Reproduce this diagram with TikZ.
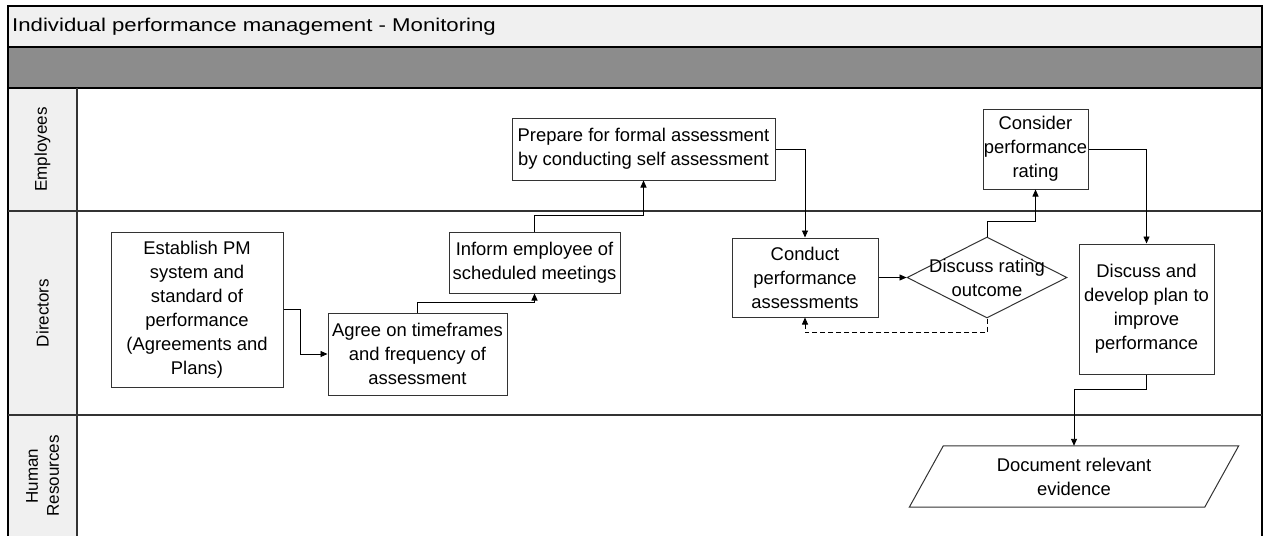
\documentclass[tikz,border=0pt]{standalone}
\usepackage{fontspec}
\usepackage{graphicx}
\setmainfont{Liberation Sans}
\usetikzlibrary{arrows.meta,shapes.geometric}

\definecolor{headfill}{HTML}{F0F0F0}
\definecolor{bandgray}{HTML}{8C8C8C}
\definecolor{laneline}{HTML}{333333}
\definecolor{boxline}{HTML}{333333}

\newcommand\boxfont{\fontsize{18.4}{24}\selectfont}
\newcommand\lanefont{\fontsize{17}{21}\selectfont}
\newcommand\headfont{\fontsize{18.5}{22}\selectfont}

\tikzset{
  stepbox/.style={draw=boxline, fill=white, line width=1pt, inner sep=0pt,
    align=center, font=\boxfont},
  decision/.style={diamond, draw=boxline, fill=white, line width=1pt, inner sep=0pt},
  flow/.style={draw=black, line width=0.9pt, -{Triangle[length=7pt,width=6pt]}},
  backflow/.style={flow, dash pattern=on 5pt off 3pt},
  frameline/.style={draw=black, line width=1.4pt},
  laneline/.style={draw=laneline, line width=1.4pt},
  lanelabel/.style={rotate=90, font=\lanefont, align=center},
}

\begin{document}
\begin{tikzpicture}[x=1pt, y=-1pt]
  \useasboundingbox (0,0) rectangle (1265,535);
  \fill[white] (0,0) rectangle (1265,535);

  % pool header, band and lane label column
  \fill[headfill] (8,6) rectangle (1262,47);
  \fill[bandgray] (8,47) rectangle (1262,88);
  \fill[headfill] (8,88) rectangle (77,540);

  \draw[frameline] (8,540) -- (8,6) -- (1262,6) -- (1262,540);
  \draw[frameline] (8,47) -- (1262,47);
  \draw[frameline] (8,88) -- (1262,88);
  \draw[laneline] (77,88) -- (77,540);
  \draw[laneline] (8,211) -- (1262,211);
  \draw[laneline] (8,415) -- (1262,415);

  \node[anchor=base west, font=\headfont, inner sep=0pt] (title) at (12,31.7)
    {\scalebox{1.2}[1]{Individual performance management - Monitoring}};

  % lane labels
  \node[lanelabel] (lemp) at (42.5,149.5) {Employees};
  \node[lanelabel] (ldir) at (42.5,313) {Directors};
  \node[lanelabel] (lhr)  at (42.5,476) {Human\\Resources};

  % process steps
  \node[stepbox, minimum width=172, minimum height=155] (est) at (197,309.5)
    {Establish PM\\system and\\standard of\\performance\\(Agreements and\\Plans)};
  \node[stepbox, minimum width=179, minimum height=82] (agree) at (417.5,354)
    {Agree on timeframes\\and frequency of\\assessment};
  \node[stepbox, minimum width=171, minimum height=61] (inform) at (534.5,262.5)
    {Inform employee of\\scheduled meetings};
  \node[stepbox, minimum width=263, minimum height=62] (prep) at (643.5,149)
    {Prepare for formal assessment\\by conducting self assessment};
  \node[stepbox, minimum width=146, minimum height=79] (cond) at (805,277.5)
    {Conduct\\performance\\assessments};
  \node[decision, minimum width=160, minimum height=81,
        label={[font=\boxfont, align=center]center:Discuss rating\\outcome}] (dia) at (987,277.5) {};
  \node[stepbox, minimum width=105, minimum height=80] (cons) at (1035.5,149)
    {Consider\\performance\\rating};
  \node[stepbox, minimum width=135, minimum height=130] (disc) at (1146.5,309)
    {Discuss and\\develop plan to\\improve\\performance};

  % data step drawn as a parallelogram around its text
  \node[font=\boxfont, align=center, inner sep=0pt, minimum width=295, minimum height=61] (doc) at (1074,476.5)
    {Document relevant\\evidence};
  \draw[draw=boxline, line width=1pt]
    ([xshift=17]doc.north west) -- ([xshift=17]doc.north east)
    -- ([xshift=-17]doc.south east) -- ([xshift=-17]doc.south west) -- cycle;

  % connectors
  \draw[flow] (est.east) -- ++(17,0) |- (agree.west);
  \draw[flow] (agree.north) -- ++(0,-10) -| (inform.south);
  \draw[flow] (inform.north) -- ++(0,-16) -| (prep.south);
  \draw[flow] (prep.east) -| (cond.north);
  \draw[flow] (cond.east) -- (dia.west);
  \draw[flow] (dia.north) -- ++(0,-15) -| (cons.south);
  \draw[backflow] (dia.south) -- ++(0,14) -| (cond.south);
  \draw[flow] (cons.east) -| (disc.north);
  \draw[flow] (disc.south) -- ++(0,15) -| (doc.north);
\end{tikzpicture}
\end{document}
